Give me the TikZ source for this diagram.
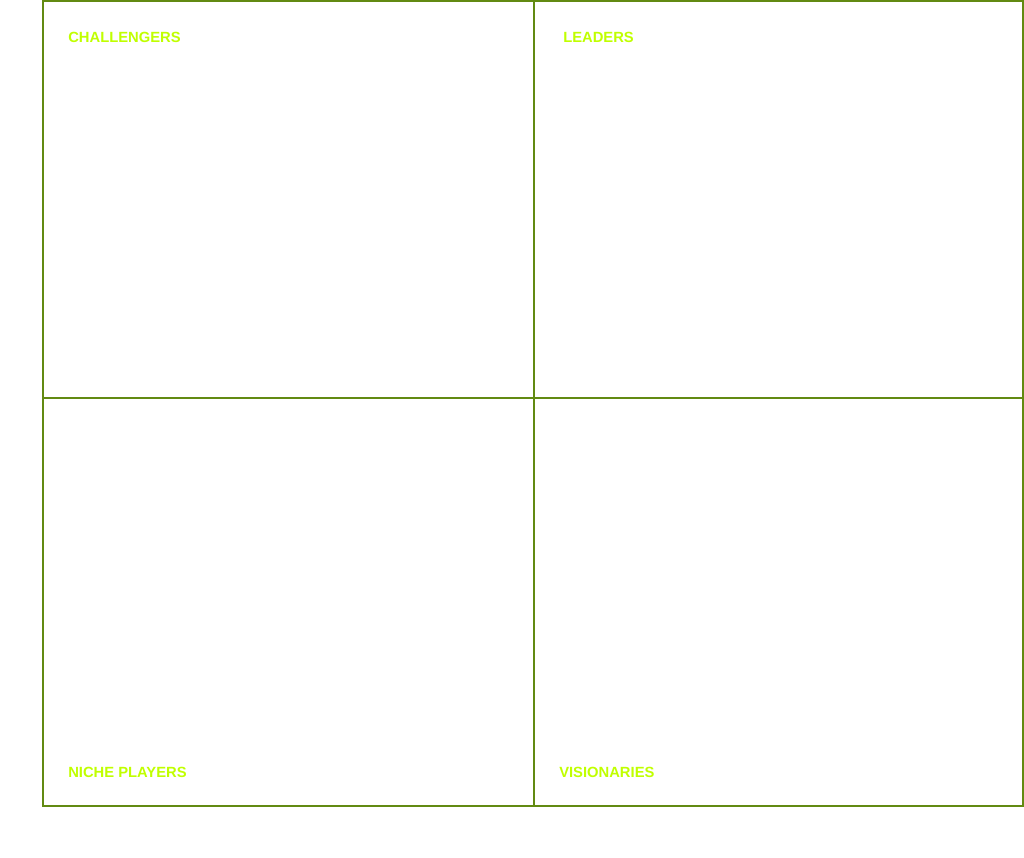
\documentclass[tikz,border=0pt]{standalone}
\usepackage{fontspec}
\setmainfont{Liberation Sans}
\definecolor{gridgreen}{RGB}{98, 138, 18}
\definecolor{limetext}{RGB}{192, 255, 0}
\usetikzlibrary{positioning}

\begin{document}
\begin{tikzpicture}[
    x=0.25mm, y=-0.25mm,
    quad/.style={draw=gridgreen, line width=1.4pt},
    qlabel/.style={anchor=base west, inner sep=0pt, text=limetext,
                   font=\fontsize{10.5}{12}\selectfont\bfseries}
  ]
  \useasboundingbox (0,0) rectangle (1024,857);

  % quadrant grid
  \coordinate (nw) at (43,1);
  \coordinate (se) at (1023,806);
  \coordinate (midtop) at (534,1);
  \coordinate (midbot) at (534,806);
  \coordinate (midleft) at (43,398);
  \coordinate (midright) at (1023,398);
  \draw[quad] (nw) rectangle (se);
  \draw[quad] (midtop) -- (midbot);
  \draw[quad] (midleft) -- (midright);

  % labels
  \node[qlabel] (chal) at (68,42) {CHALLENGERS};
  \node[qlabel] (lead) at (563,42) {LEADERS};
  \node[qlabel] (niche) at (68,777) {NICHE PLAYERS};
  \node[qlabel] (vis) at (559,777) {VISIONARIES};
\end{tikzpicture}
\end{document}
